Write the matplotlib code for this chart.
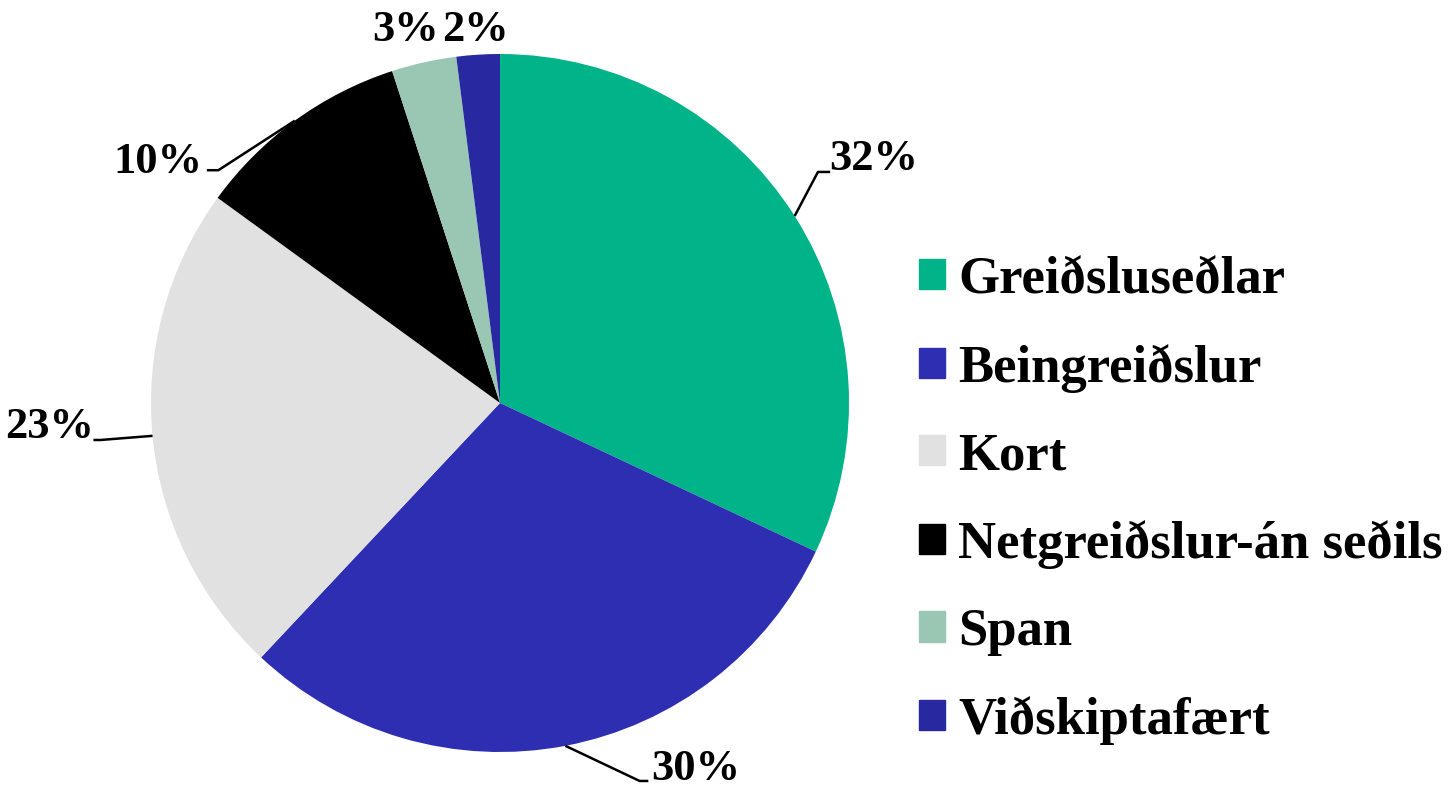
import numpy as np
import matplotlib.pyplot as plt

# share of payments by method (%)
categories = ['Greiðsluseðlar', 'Beingreiðslur', 'Kort',
              'Netgreiðslur-án seðils', 'Span', 'Viðskiptafært']
values = [32, 30, 23, 10, 3, 2]
colors = ['#00B388', '#2E2EB3', '#E1E1E1', '#000000', '#99C7B3', '#2828A0']

# label placement (x, y in pie radius units) and leader line elbows
label_pos = [(1.07, 0.70), (0.56, -1.05), (-1.29, -0.07), (-0.98, 0.69), (-0.27, 1.07), (-0.07, 1.07)]
elbow = [(0.911, 0.662), (0.40, -1.083), (-1.145, -0.106), (-0.807, 0.667), None, None]
line_end = [(0.946, 0.662), (0.425, -1.083), (-1.165, -0.106), (-0.84, 0.667), None, None]

plt.rcParams['font.family'] = ['Liberation Serif', 'DejaVu Serif']
plt.rcParams['font.weight'] = 'bold'

fig = plt.figure(figsize=(14.56, 7.88), dpi=100)
R = 349.0
ax = fig.add_axes([(500 - 380) / 1456, (385 - 380) / 788, 760 / 1456, 760 / 788])
wedges, _ = ax.pie(values, colors=colors, startangle=90, counterclock=False, radius=1.0)
ax.set_xlim(-380 / R, 380 / R)
ax.set_ylim(-380 / R, 380 / R)
ax.set_aspect('equal')
ax.axis('off')

cum = np.cumsum(values) - np.array(values) / 2.0
for i, v in enumerate(values):
    ang = np.deg2rad(90 - cum[i] / sum(values) * 360)
    ex, ey = np.cos(ang), np.sin(ang)
    if elbow[i] is not None:
        ax.plot([ex, elbow[i][0], line_end[i][0]], [ey, elbow[i][1], line_end[i][1]],
                color='black', lw=1.8, clip_on=False, solid_capstyle='butt')
    ax.text(label_pos[i][0], label_pos[i][1], f'{v}%', ha='center', va='center',
            fontsize=32, fontweight='bold', clip_on=False)

handles = [plt.Rectangle((0, 0), 1, 1, color=c) for c in colors]
fig.legend(handles, categories, loc='center left', bbox_to_anchor=(871 / 1456, 0.365),
           frameon=False, handlelength=0.5, handleheight=0.5,
           handletextpad=0.25, labelspacing=0.75, prop={'weight': 'bold', 'size': 38})

fig.savefig('out.png', dpi=100)
